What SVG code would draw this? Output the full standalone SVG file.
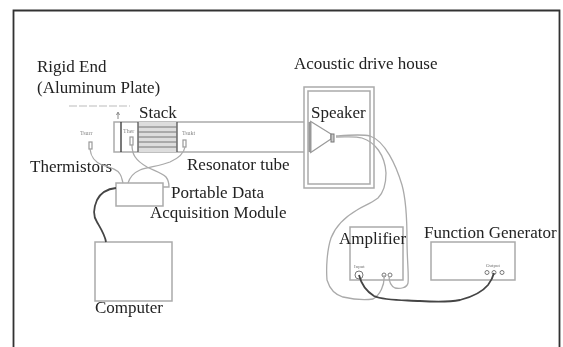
<svg xmlns="http://www.w3.org/2000/svg" width="563" height="347" viewBox="0 0 563 347">
<defs><filter id="soft" x="-5%" y="-5%" width="110%" height="110%"><feGaussianBlur stdDeviation="0.45"/></filter></defs>
<style>
text{font-family:"Liberation Serif","Times New Roman",serif;fill:#222}
.l{font-size:17px}
.s{font-size:6px;fill:#888}
.xs{font-size:5px;fill:#777}
.box{fill:#fff;stroke:#aaa;stroke-width:1.5}
.w{fill:none;stroke:#aaa;stroke-width:1.3}
.d{fill:none;stroke:#444;stroke-width:1.8}
.t{fill:none;stroke:#999;stroke-width:1.2}
.c{fill:none;stroke:#777}
</style>
<rect width="563" height="347" fill="#fff"/>
<g filter="url(#soft)">
<path id="frame" d="M13.500 347V10.500H559.500V347" fill="none" stroke="#333" stroke-width="1.800"/>
<g id="resonator-tube"><path d="M310 122H114V152H310" fill="none" stroke="#aaa" stroke-width="1.500"/><path d="M121 122V152" stroke="#333" stroke-width="1.300"/><text class="l" x="187" y="170">Resonator tube</text></g>
<g id="stack"><rect x="138" y="122" width="39" height="30" fill="#ddd"/><path d="M138 122V152M177 122V152" stroke="#555" stroke-width="1.300"/><path d="M138 127H177M138 132H177M138 137H177M138 142H177M138 147H177" stroke="#777"/><text class="l" x="139" y="118">Stack</text></g>
<g id="rigid-end"><text class="l" x="37" y="72">Rigid End</text><text class="l" x="37" y="93">(Aluminum Plate)</text><path d="M69 106H130" stroke="#bbb" stroke-dasharray="8 2"/><path d="M118 119V113M116.500 115L118 112L119.500 115" fill="none" stroke="#888"/></g>
<g id="drive-house"><rect class="box" x="304" y="87" width="70" height="101"/><rect class="box" x="308" y="91" width="62" height="93"/><text class="l" x="294" y="69">Acoustic drive house</text><text class="l" x="311" y="118">Speaker</text></g>
<g id="speaker"><path d="M310 122V152" stroke="#999" stroke-width="3"/><path d="M310 121L331 134V139L310 153" fill="none" stroke="#999" stroke-width="1.300"/><rect x="331" y="134" width="3" height="8" fill="#ccc" stroke="#777"/></g>
<g id="thermistors"><g class="t"><rect x="89" y="142" width="3" height="7"/><rect x="130" y="137" width="3" height="8"/><rect x="183" y="140" width="3" height="7"/></g><text class="s" x="80" y="135">Tsurr</text><text class="s" x="123" y="133">Ther</text><text class="s" x="182" y="135">Tsukt</text><text class="l" x="30" y="172">Thermistors</text></g>
<g id="module"><rect class="box" x="116" y="183" width="47" height="23"/><text class="l" x="171" y="198">Portable Data</text><text class="l" x="150" y="218">Acquisition Module</text></g>
<g id="computer"><rect class="box" x="95" y="242" width="77" height="59"/><text class="l" x="95" y="313">Computer</text></g>
<g id="amplifier"><rect class="box" x="350" y="227" width="53" height="53"/><text class="l" x="339" y="244">Amplifier</text><text class="xs" x="354" y="268">Input</text><circle class="c" cx="359" cy="275" r="4"/><circle class="c" cx="384" cy="275" r="2"/><circle class="c" cx="390" cy="275" r="2"/></g>
<g id="function-generator"><rect class="box" x="431" y="242" width="84" height="38"/><text class="l" x="424" y="238">Function Generator</text><text class="xs" x="486" y="267">Output</text><circle class="c" cx="487" cy="272.500" r="2"/><circle class="c" cx="494" cy="272.500" r="2"/><circle class="c" cx="502" cy="272.500" r="2"/></g>
<g id="connectors">
<path class="w" d="M336 136C350 135 362 134 370 136C385 141 396 165 402 185C407 203 407 225 407 240C407 260 409 275 408 283C407 288 400 289 395 288C391 286 389 282 389 276"/>
<path class="w" d="M336 137C348 137 355 136 362 138C375 142 385 155 386 173C386 185 383 193 378 198C370 204 363 206 357 210C345 217 336 225 331 238C327 250 326 268 327 280C330 290 336 295 343 297C352 299 365 300 373 299C380 295 385 285 384 275"/>
<path class="w" d="M90 149C91 158 95 162 102 165C112 168 118 170 120 174C122 177 122 180 123 183"/>
<path class="w" d="M132 145C132 154 135 160 147 167C155 171 162 173 166 177C169 181 169 184 169 187L163 187"/>
<path class="w" d="M185 147C184 153 179 158 170 162C160 166 148 167 140 170C133 173 130 177 128 183"/>
<path class="d" d="M116 188C107 189 101 192 97 200C93 209 93 216 97 222C101 229 105 235 106 242"/>
<path class="d" d="M359 275C361 283 366 291 374 296C385 301 405 300 420 301C435 302 450 302 460 300C472 297 483 291 488 285C491 281 493 277 494 273"/>
</g>
</g>
</svg>
